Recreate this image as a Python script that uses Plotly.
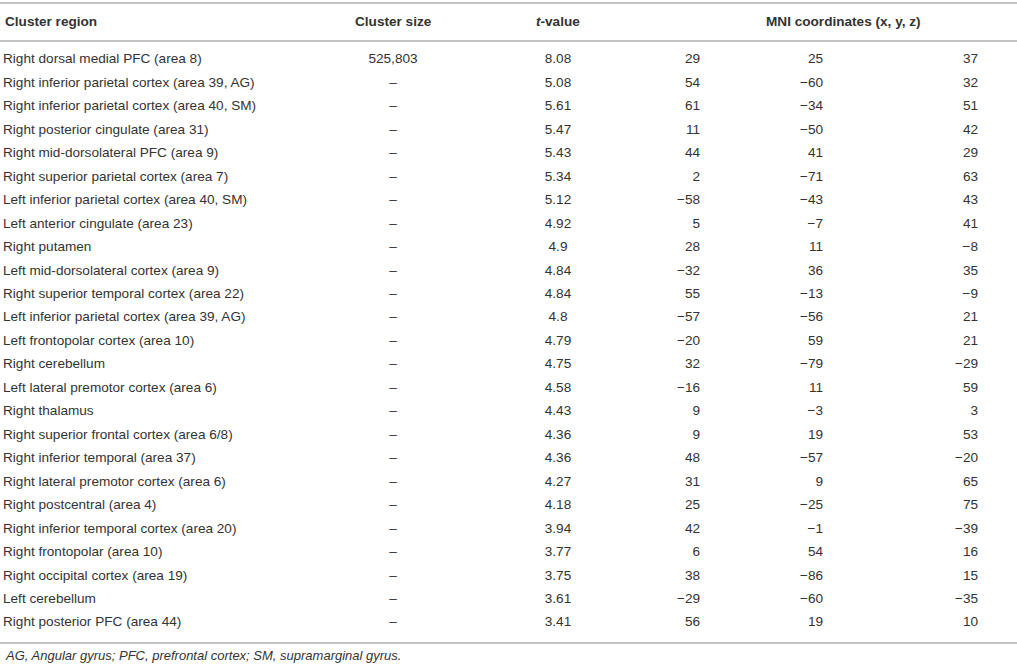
import plotly.graph_objects as go

regions = [
    "Right dorsal medial PFC (area 8)",
    "Right inferior parietal cortex (area 39, AG)",
    "Right inferior parietal cortex (area 40, SM)",
    "Right posterior cingulate (area 31)",
    "Right mid-dorsolateral PFC (area 9)",
    "Right superior parietal cortex (area 7)",
    "Left inferior parietal cortex (area 40, SM)",
    "Left anterior cingulate (area 23)",
    "Right putamen",
    "Left mid-dorsolateral cortex (area 9)",
    "Right superior temporal cortex (area 22)",
    "Left inferior parietal cortex (area 39, AG)",
    "Left frontopolar cortex (area 10)",
    "Right cerebellum",
    "Left lateral premotor cortex (area 6)",
    "Right thalamus",
    "Right superior frontal cortex (area 6/8)",
    "Right inferior temporal (area 37)",
    "Right lateral premotor cortex (area 6)",
    "Right postcentral (area 4)",
    "Right inferior temporal cortex (area 20)",
    "Right frontopolar (area 10)",
    "Right occipital cortex (area 19)",
    "Left cerebellum",
    "Right posterior PFC (area 44)",
]
cluster_size = ["525,803", "–", "–", "–", "–", "–", "–", "–", "–", "–", "–", "–", "–",
                "–", "–", "–", "–", "–", "–", "–", "–", "–", "–", "–", "–"]
t_values = [8.08, 5.08, 5.61, 5.47, 5.43, 5.34, 5.12, 4.92, 4.9, 4.84, 4.84, 4.8, 4.79,
            4.75, 4.58, 4.43, 4.36, 4.36, 4.27, 4.18, 3.94, 3.77, 3.75, 3.61, 3.41]
mni_x = [29, 54, 61, 11, 44, 2, -58, 5, 28, -32, 55, -57, -20, 32, -16, 9, 9, 48, 31, 25, 42, 6, 38, -29, 56]
mni_y = [25, -60, -34, -50, 41, -71, -43, -7, 11, 36, -13, -56, 59, -79, 11, -3, 19, -57, 9, -25, -1, 54, -86, -60, 19]
mni_z = [37, 32, 51, 42, 29, 63, 43, 41, -8, 35, -9, 21, 21, -29, 59, 3, 53, -20, 65, 75, -39, 16, 15, -35, 10]
headers = ["Cluster region", "Cluster size", "<i>t</i>-value", "MNI coordinates (x, y, z)"]
footnote = "AG, Angular gyrus; PFC, prefrontal cortex; SM, supramarginal gyrus."

W, H = 1017, 666
FONT = "Liberation Sans, Arial, sans-serif"
TXT = "#333333"
LINE = "#c2c2c2"
FS = 13.6

# layout (pixel space)
ROW0, ROWSTEP = 60, 23.46
HEADER_Y = 21
TOP_LINE, HEAD_LINE, BOT_LINE = 3, 41, 643
FOOT_Y = 655
COL_REGION = 3
COL_SIZE = 393
COL_T = 558
COL_X = 700
COL_Y = 823
COL_Z = 978
COL_MNI = 843


def fmt(v):
    return str(v).replace("-", "\u2212")


rows_y = [ROW0 + i * ROWSTEP for i in range(len(regions))]

fig = go.Figure()


def col(xpos, texts, pos):
    fig.add_trace(go.Scatter(
        x=[xpos] * len(texts), y=rows_y, mode="text", text=texts,
        textposition=pos, textfont=dict(family=FONT, size=FS, color=TXT),
        hoverinfo="skip", showlegend=False, cliponaxis=False))


col(COL_REGION, regions, "middle right")
col(COL_SIZE, cluster_size, "middle center")
col(COL_T, [str(v) for v in t_values], "middle center")
col(COL_X, [fmt(v) for v in mni_x], "middle left")
col(COL_Y, [fmt(v) for v in mni_y], "middle left")
col(COL_Z, [fmt(v) for v in mni_z], "middle left")

hf = dict(family=FONT, size=FS, color=TXT)
for xpos, txt, anchor in [(COL_REGION, headers[0], "left"), (COL_SIZE, headers[1], "center"),
                          (COL_T, headers[2], "center"), (COL_MNI, headers[3], "center")]:
    fig.add_annotation(x=xpos, y=HEADER_Y, text="<b>" + txt + "</b>", showarrow=False,
                       xanchor=anchor, yanchor="middle", font=hf)
fig.add_annotation(x=COL_REGION, y=FOOT_Y, text="<i>" + footnote + "</i>", showarrow=False,
                   xanchor="left", yanchor="middle", font=dict(family=FONT, size=13, color=TXT))

for yy in [TOP_LINE, HEAD_LINE, BOT_LINE]:
    fig.add_shape(type="line", x0=0, x1=W, y0=yy, y1=yy, line=dict(color=LINE, width=2))

fig.update_layout(
    width=W, height=H, margin=dict(l=0, r=0, t=0, b=0),
    paper_bgcolor="white", plot_bgcolor="white",
    xaxis=dict(range=[0, W], visible=False, fixedrange=True),
    yaxis=dict(range=[H, 0], visible=False, fixedrange=True),
)
fig.write_html("out.html", config={"displayModeBar": False},
               post_script="document.body.style.margin='0';document.body.style.overflow='hidden';")
